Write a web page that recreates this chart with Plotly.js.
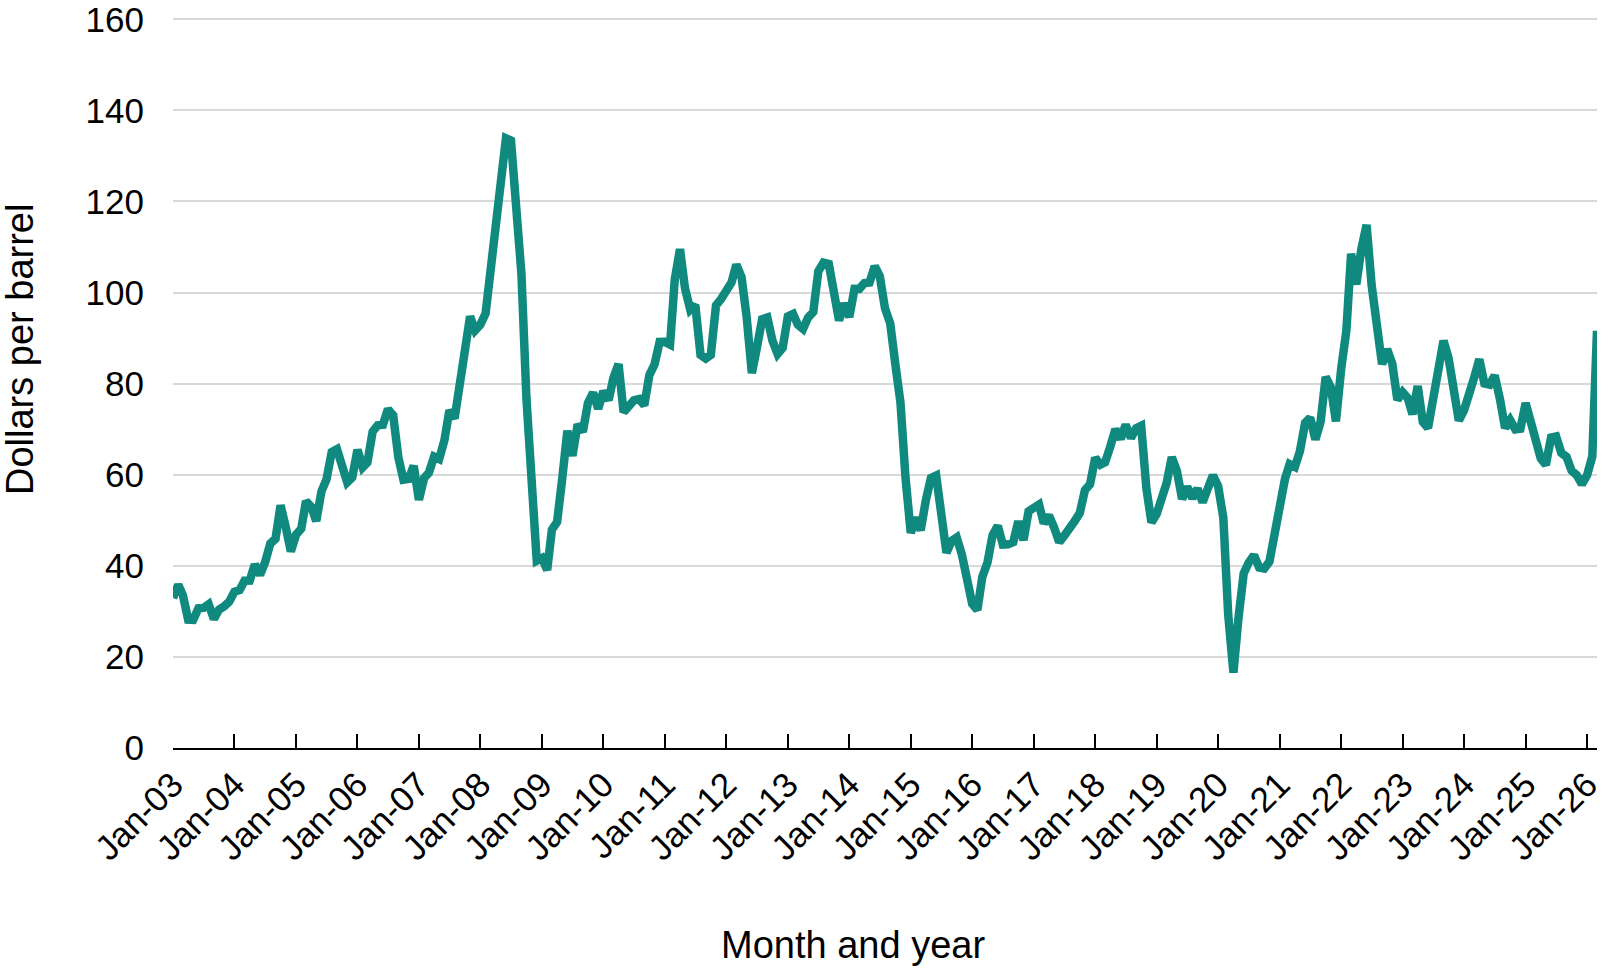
<!DOCTYPE html>
<html>
<head>
<meta charset="utf-8">
<script src="https://cdn.plot.ly/plotly-3.0.1.min.js"></script>
<style>html,body{margin:0;padding:0;background:#fff;}#chart{width:1612px;height:968px;}</style>
</head>
<body>
<div id="chart"></div>
<script>
// Monthly crude oil price (dollars per barrel), Jan 2003 - Mar 2026
const startYear = 2003;
const prices = [
  32.95, 35.83, 33.51, 28.17, 28.11, 30.66, 30.75, 31.57, 28.31, 30.34, 31.11, 32.13, // 2003
  34.31, 34.69, 36.74, 36.75, 40.28, 38.03, 40.78, 44.90, 45.94, 53.28, 48.47, 43.15, // 2004
  46.84, 48.15, 54.19, 52.98, 49.83, 56.35, 58.99, 64.98, 65.59, 62.26, 58.32, 59.41, // 2005
  65.49, 61.63, 62.69, 69.44, 70.84, 70.95, 74.41, 73.04, 63.80, 58.89, 59.08, 61.96, // 2006
  54.51, 59.28, 60.44, 63.98, 63.46, 67.49, 74.12, 72.36, 79.92, 85.80, 94.77, 91.69, // 2007
  92.97, 95.39, 105.45, 112.58, 125.40, 133.88, 133.37, 116.67, 104.11, 76.61, 57.31, 41.12, // 2008
  41.71, 39.09, 47.94, 49.65, 59.03, 69.64, 64.15, 71.05, 69.41, 75.72, 77.99, 74.47, // 2009
  78.33, 76.39, 81.20, 84.29, 73.74, 75.34, 76.32, 76.60, 75.24, 81.89, 84.25, 89.15, // 2010
  89.17, 88.58, 102.86, 109.53, 100.90, 96.26, 97.30, 86.33, 85.52, 86.32, 97.16, 98.56, // 2011
  100.27, 102.20, 106.16, 103.32, 94.66, 82.30, 87.90, 94.13, 94.51, 89.49, 86.53, 87.86, // 2012
  94.76, 95.31, 92.94, 92.02, 94.51, 95.77, 104.67, 106.57, 106.29, 100.54, 93.86, 97.63, // 2013
  94.62, 100.82, 100.80, 102.07, 102.18, 105.79, 103.59, 96.54, 93.21, 84.40, 75.79, 59.29, // 2014
  47.22, 50.58, 47.82, 54.45, 59.27, 59.82, 50.90, 42.87, 45.48, 46.22, 42.44, 37.19, // 2015
  31.68, 30.32, 37.55, 40.75, 46.71, 48.76, 44.65, 44.72, 45.18, 49.78, 45.66, 51.97, // 2016
  52.50, 53.47, 49.33, 51.06, 48.48, 45.18, 46.63, 48.04, 49.82, 51.58, 56.64, 57.88, // 2017
  63.70, 62.23, 62.73, 66.25, 69.98, 67.87, 70.98, 68.06, 70.23, 70.75, 56.96, 49.52, // 2018
  51.38, 54.95, 58.15, 63.86, 60.83, 54.66, 57.35, 54.81, 56.95, 53.96, 57.03, 59.88, // 2019
  57.52, 50.54, 29.21, 16.55, 28.56, 38.31, 40.71, 42.34, 39.63, 39.40, 40.94, 47.02, // 2020
  52.00, 59.04, 62.33, 61.72, 65.17, 71.38, 72.49, 67.73, 71.65, 81.48, 79.15, 71.71, // 2021
  83.22, 91.64, 108.50, 101.78, 109.55, 114.84, 101.62, 93.67, 84.26, 87.55, 84.37, 76.44, // 2022
  78.12, 76.83, 73.28, 79.45, 71.58, 70.25, 76.07, 81.39, 89.43, 85.64, 77.69, 71.90, // 2023
  74.15, 77.25, 81.28, 85.35, 80.02, 79.77, 81.80, 76.68, 70.24, 71.99, 69.95, 70.12, // 2024
  75.74, 71.53, 68.24, 63.54, 62.17, 68.17, 68.39, 64.80, 63.90, 60.90, 59.90, 57.90, // 2025
  59.90, 64.00, 91.60 // 2026
];
const yTicks = [0, 20, 40, 60, 80, 100, 120, 140, 160];
const xTitle = "Month and year";
const yTitle = "Dollars per barrel";
const lineColor = "#108a7e";

const dates = prices.map((_, i) => {
  const y = startYear + Math.floor(i / 12);
  const m = (i % 12) + 1;
  return y + "-" + (m < 10 ? "0" + m : m) + "-01";
});
const tickVals = [];
const tickText = [];
for (let y = startYear; y <= 2026; y++) {
  tickVals.push(y + "-01-01");
  tickText.push("Jan-" + String(y).slice(2));
}

const font = "Liberation Sans, Arial, Helvetica, sans-serif";

const trace = {
  x: dates,
  y: prices,
  type: "scatter",
  mode: "lines",
  line: { color: lineColor, width: 8.5, shape: "linear" },
  hoverinfo: "skip",
  cliponaxis: false
};

const layout = {
  width: 1612,
  height: 968,
  margin: { l: 173, r: 15, t: 17, b: 220 },
  paper_bgcolor: "#ffffff",
  plot_bgcolor: "#ffffff",
  showlegend: false,
  font: { family: font, color: "#000000", size: 35 },
  xaxis: {
    type: "date",
    range: [dates[0], dates[dates.length - 1]],
    tickvals: tickVals,
    ticktext: tickText,
    tickangle: -45,
    ticks: "inside",
    ticklen: 14,
    tickwidth: 2,
    tickcolor: "#000000",
    showline: true,
    linecolor: "#000000",
    linewidth: 2,
    showgrid: false,
    zeroline: false,
    ticklabeloverflow: "allow",
    tickfont: { family: font, size: 35, color: "#000000" },
    fixedrange: true
  },
  yaxis: {
    range: [0, 160.5],
    tickvals: yTicks,
    ticks: "",
    showline: false,
    showgrid: true,
    gridcolor: "#d9d9d9",
    gridwidth: 2,
    zeroline: false,
    ticklabelstandoff: 28,
    ticklabeloverflow: "allow",
    tickfont: { family: font, size: 35, color: "#000000" },
    fixedrange: true
  },
  annotations: [
    {
      text: yTitle, xref: "paper", yref: "paper",
      x: (20 - 173) / 1424, y: (748 - 350) / 731,
      xanchor: "center", yanchor: "middle", textangle: -90, showarrow: false,
      font: { family: font, size: 38, color: "#000000" }
    },
    {
      text: xTitle, xref: "paper", yref: "paper",
      x: (853 - 173) / 1424, y: (748 - 945) / 731,
      xanchor: "center", yanchor: "middle", showarrow: false,
      font: { family: font, size: 38, color: "#000000" }
    }
  ]
};

Plotly.newPlot("chart", [trace], layout, { displayModeBar: false, staticPlot: true });
</script>
</body>
</html>
